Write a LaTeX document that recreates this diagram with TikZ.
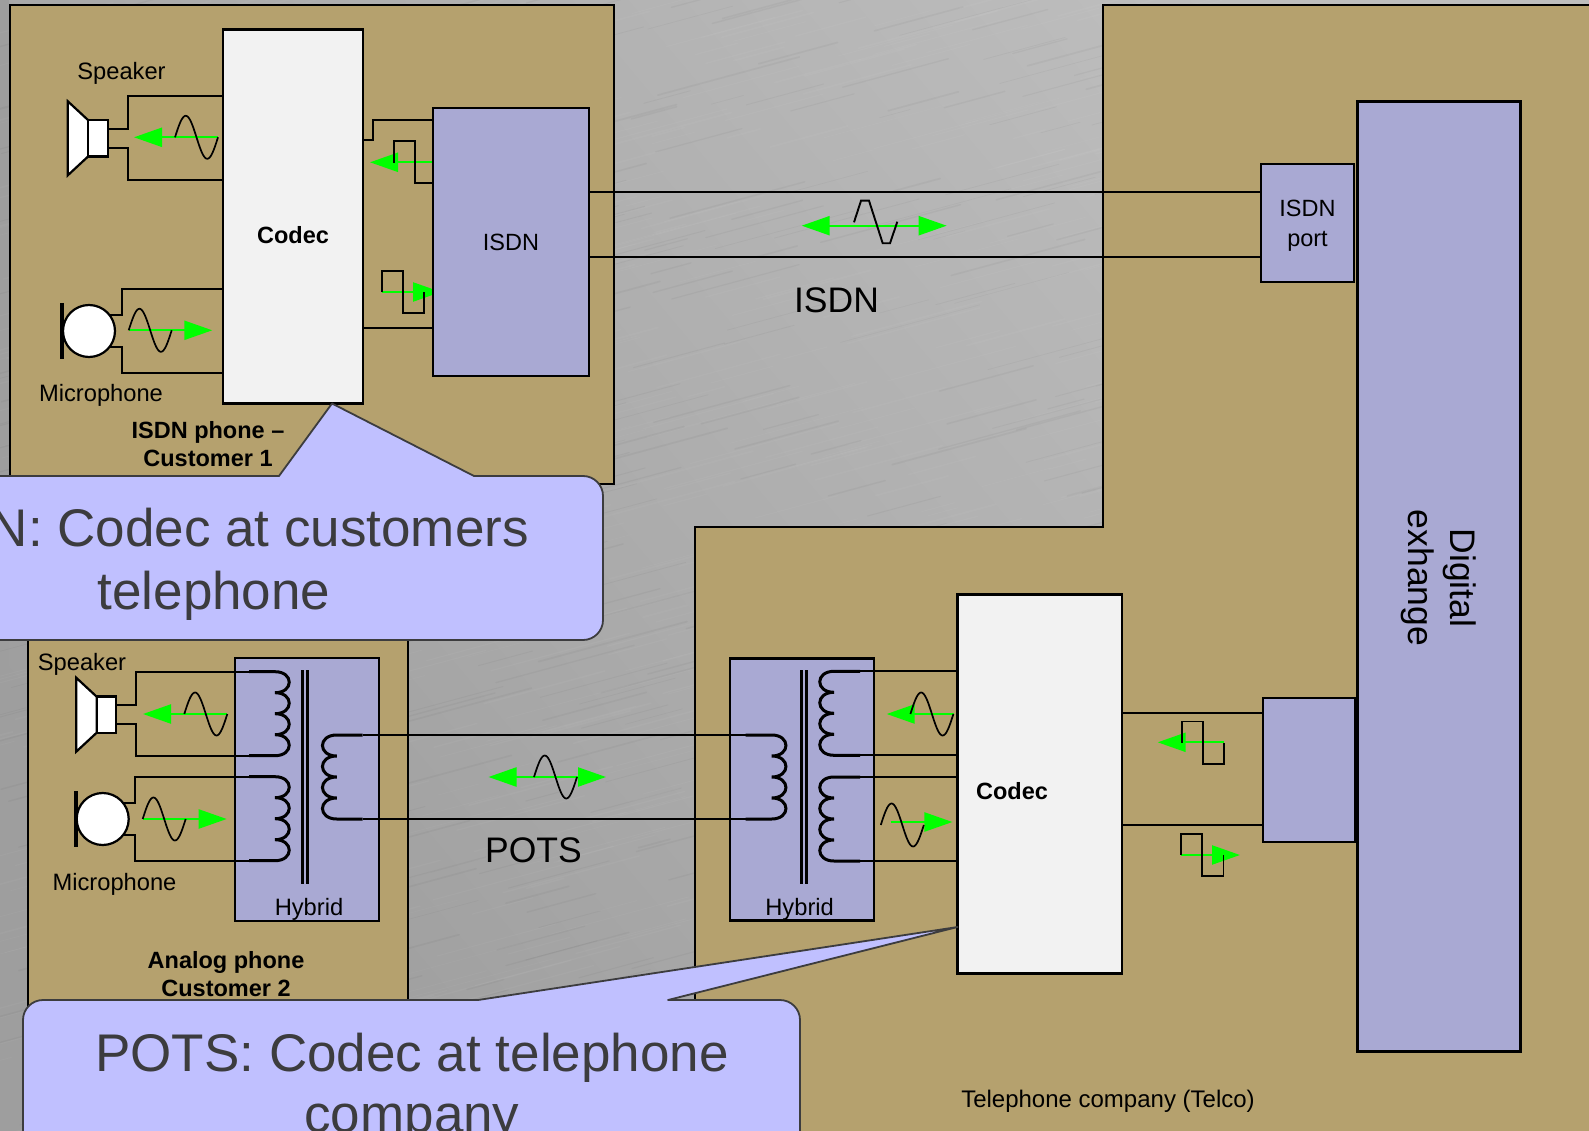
\documentclass[tikz,border=0pt]{standalone}
\usepackage{fontspec}
\setmainfont{Liberation Sans}
\usepackage{tikz}
\usetikzlibrary{arrows.meta,positioning,calc}
\usepackage{xcolor}
\definecolor{tanfill}{HTML}{B5A16E}
\definecolor{lilac}{HTML}{A9A9D3}
\definecolor{codecfill}{HTML}{F2F2F2}
\definecolor{bubble}{HTML}{C0C0FF}
\definecolor{bubbleline}{HTML}{3C3C3E}
\definecolor{bgdark}{HTML}{9E9E9E}
\definecolor{bglight}{HTML}{BEBEBE}
\tikzset{
  region/.style   = {draw=black, fill=tanfill, line width=1.9pt},
  block/.style    = {draw=black, line width=2.5pt, rectangle, inner sep=0pt, outer sep=0pt, align=center,
                     font=\fontsize{23.5}{30}\selectfont},
  lilacbox/.style = {block, fill=lilac},
  codecbox/.style = {block, fill=codecfill, line width=2.8pt},
  horn/.style     = {draw=black, fill=white, line width=2.2pt, line join=miter},
  micbody/.style  = {draw=black, fill=white, line width=2.2pt, circle, inner sep=0pt, outer sep=0pt, minimum size=52pt},
  micbar/.style   = {line width=3.6pt},
  wire/.style     = {line width=2pt},
  wave/.style     = {line width=1.7pt},
  coilline/.style = {line width=3pt},
  coreline/.style = {line width=3pt},
  sig/.style      = {green, line width=2.3pt, -{Triangle[length=28pt,width=19pt]}},
  sigboth/.style  = {green, line width=2.3pt, {Triangle[length=28pt,width=19pt]}-{Triangle[length=28pt,width=19pt]}},
  lbl/.style      = {inner sep=0pt, align=center, font=\fontsize{23.7}{29}\selectfont},
  lblbold/.style  = {lbl, font=\fontsize{23.5}{28}\selectfont\bfseries},
  lblbig/.style   = {inner sep=0pt, align=center, font=\fontsize{35.5}{42}\selectfont},
  callout/.style  = {draw=bubbleline, fill=bubble, line width=1.8pt, line join=round},
  calloutxt/.style= {inner sep=0pt, text=bubbleline, font=\fontsize{53}{63}\selectfont},
}
% sine wave glyph, #1 #2 = left end on the axis
\newcommand{\sinewave}[2]{\draw[wave, shift={(#1,#2)}, domain=0:43, samples=41, smooth] plot (\x,{-21.5*sin(\x*360/43)});}
% square wave glyph
\newcommand{\squarewave}[2]{\draw[wave, shift={(#1,#2)}] (0,0) -- (0,-21.3) -- (21.2,-21.3) -- (21.2,21) -- (42.4,21) -- (42.4,0);}
% green arrow between two named ends
\newcommand{\sigarrow}[5][sig]{\coordinate (#2-a) at (#3,#5); \coordinate (#2-b) at (#4,#5); \draw[#1] (#2-a) -- (#2-b);}
% transformer winding, four bumps, with named ends
\newcommand{\coil}[4]{
  \begin{scope}[shift={(#2,#3)}, xscale=#4]
    \coordinate (#1-t) at (-26,0);
    \coordinate (#1-b) at (-26,84);
    \draw[coilline] (#1-t) -- (0,0) \foreach \i in {0,1,2,3} { .. controls (19,{\i*21}) and (19,{\i*21+21}) .. (0,{\i*21+21}) } -- (#1-b);
  \end{scope}
}
\newcommand{\speaker}[3]{
  \draw[horn] ($(#2,#3)+(0,-18)$) -- ($(#2,#3)+(-20.5,-37)$) -- ($(#2,#3)+(-20.5,37)$) -- ($(#2,#3)+(0,18)$) -- cycle;
  \node[block, fill=white, line width=2.2pt, minimum width=19.5pt, minimum height=36.5pt] (#1) at ($(#2,#3)+(9.7,0)$) {};
}
\newcommand{\mike}[3]{
  \draw[micbar] ($(#2,#3)+(-27,-28)$) -- ($(#2,#3)+(-27,28)$);
  \node[micbody] (#1) at (#2,#3) {};
}

\begin{document}
\begin{tikzpicture}[x=1pt,y=-1pt]
\useasboundingbox (0,0) rectangle (1589,1131);
\clip (0,0) rectangle (1589,1131);
% ---- brushed metal ----
\shade[bottom color=bgdark, top color=bglight, shading angle=-50] (0,0) rectangle (1589,1131);
\fill[bgdark] (0,0) rectangle (9,1131);
\pgfmathsetseed{11}
\foreach \i in {1,...,1400} {
  \pgfmathsetmacro{\sx}{rnd*1250-60}
  \pgfmathsetmacro{\sy}{rnd*1231}
  \pgfmathsetmacro{\sl}{30+rnd*120}
  \pgfmathsetmacro{\sw}{0.5+rnd*1.3}
  \pgfmathparse{rnd>0.35 ? "white" : "black"}
  \edef\scol{\pgfmathresult}
  \draw[\scol, opacity=0.035, line width=\sw pt, line cap=round] (\sx,\sy) -- ++(\sl,{-0.27*\sl});
}
% ---- background areas ----
\draw[region] (10,5) rectangle (614,484);
\draw[region] (28,630) rectangle (408,1140);
\draw[region] (1600,5) -- (1103,5) -- (1103,527) -- (695,527) -- (695,1140) -- (1600,1140) -- cycle;

% ---- customer 1 ----
\node[codecbox, minimum width=140pt, minimum height=374pt] (codecA) at (293,216.5) {};
\node[lblbold] (codecAt) at (293,235) {Codec};
% this arrow runs in under the isdn box
\sigarrow{sigD}{381.7}{441}{292}
\node[lilacbox, minimum width=156pt, minimum height=268pt] (isdnA) at (511,242) {ISDN};
\speaker{spkA}{88.3}{138.3}
\mike{micA}{89}{331}
\node[lbl] (spkAt) at (121.5,73) {Speaker};
\node[lbl] (micAt) at (101,395) {Microphone};
\node[lblbold] (custA) at (208,444) {ISDN phone --\\Customer 1};

\draw[wire] (spkA.east |- 0,129) -- ++(20,0) |- (codecA.west |- 0,95.7);
\draw[wire] (spkA.east |- 0,147.7) -- ++(20,0) |- (codecA.west |- 0,180);
\draw[wire] (micA.38) -- ++(13,0) |- (codecA.west |- 0,289);
\draw[wire] (micA.-38) -- ++(13,0) |- (codecA.west |- 0,373.3);
\draw[wire] (codecA.east |- 0,140.3) -- ++(10,0) |- (isdnA.west |- 0,120);
\draw[wire] (codecA.east |- 0,328) -- (isdnA.west |- 0,328);

\sigarrow{sigA}{218.3}{134}{137.3}
\sinewave{175}{137.3}
\sigarrow{sigB}{128.7}{212.3}{330.3}
\sinewave{128.7}{330.3}
\sigarrow{sigC}{432}{370}{162.3}
\draw[wave] (394,162.7) -- (394,141) -- (415.3,141) -- (415.3,183.3) -- (isdnA.west |- 0,183.3);
\squarewave{381.7}{292.3}

% ---- isdn line ----
\node[lilacbox, minimum width=93pt, minimum height=118pt] (isdnPort) at (1307.5,223) {};
\node[lbl, font=\fontsize{23.5}{30}\selectfont] (isdnPortT) at (1307.5,225.5) {ISDN\\port};
\node[lilacbox, line width=3pt, minimum width=163pt, minimum height=949pt] (exch) at (1438.5,576.5) {};
\node[lblbig, rotate=-90] (exchT) at (1439,578) {Digital\\exhange};
\draw[wire] (isdnA.east |- 0,192.5) -- (isdnPort.west |- 0,192.5);
\draw[wire] (isdnA.east |- 0,257.5) -- (isdnPort.west |- 0,257.5);
\sigarrow[sigboth]{sigE}{801.7}{946.7}{225.7}
\draw[wave, line width=1.9pt] (854,222.3) -- (861,200.7) -- (869,200.7) -- (882.7,243.3) -- (890,243.3) -- (897.3,221.7);
\node[lblbig] (isdnT) at (836.5,300) {ISDN};

% ---- customer 2 ----
\node[lilacbox, minimum width=144pt, minimum height=263pt] (hybL) at (307,789.5) {};
\node[lbl] (hybLt) at (309,909) {Hybrid};
\speaker{spkB}{96.7}{714.7}
\mike{micB}{102.7}{819}
\node[lbl] (spkBt) at (82,664) {Speaker};
\node[lbl] (micBt) at (114.5,884) {Microphone};
\node[lblbold] (custB) at (226,974) {Analog phone\\Customer 2};

\coil{coilLa}{275}{671.7}{1}
\coil{coilLb}{275}{776.7}{1}
\coil{coilLc}{336.7}{735}{-1}
\draw[coreline] (302.7,670) -- (302.7,884.3);
\draw[coreline] (307.4,670) -- (307.4,884.3);

\draw[wire] (spkB.east |- 0,705) -- ++(20,0) |- (coilLa-t);
\draw[wire] (spkB.east |- 0,724) -- ++(20,0) |- (coilLa-b);
\draw[wire] (micB.38) -- ++(11.5,0) |- (coilLb-t);
\draw[wire] (micB.-38) -- ++(11.5,0) |- (coilLb-b);

\sigarrow{sigF}{227}{143}{714}
\sinewave{184.3}{714}
\sigarrow{sigG}{142.7}{226.7}{819}
\sinewave{142.7}{819}

% ---- pots line ----
\node[lilacbox, minimum width=144pt, minimum height=262pt] (hybR) at (802,789.5) {};
\node[lbl] (hybRt) at (799.6,909) {Hybrid};
\coil{coilRc}{771.7}{735}{1}
\coil{coilRa}{834}{671.3}{-1}
\coil{coilRb}{834}{777}{-1}
\draw[coreline] (801.6,670) -- (801.6,884.3);
\draw[coreline] (806.2,670) -- (806.2,884.3);
\draw[wire] (coilLc-t) -- (coilRc-t);
\draw[wire] (coilLc-b) -- (coilRc-b);
\sigarrow[sigboth]{sigH}{488.5}{606}{777}
\sinewave{534}{777}
\node[lblbig] (potsT) at (533.5,850) {POTS};

% ---- telco ----
\node[codecbox, minimum width=164.5pt, minimum height=379pt] (codecB) at (1039.8,784) {};
\node[lblbold] (codecBt) at (1012,791.5) {Codec};
\node[lilacbox, minimum width=92pt, minimum height=144pt] (lineCard) at (1309,770) {};
\node[lbl, font=\fontsize{24}{29}\selectfont] (telco) at (1108,1101) {Telephone company (Telco)};

\draw[wire] (coilRa-t) -- (coilRa-t -| codecB.west);
\draw[wire] (coilRa-b) -- (coilRa-b -| codecB.west);
\draw[wire] (coilRb-t) -- (coilRb-t -| codecB.west);
\draw[wire] (coilRb-b) -- (coilRb-b -| codecB.west);
\draw[wire] (codecB.east |- 0,713.3) -- (lineCard.west |- 0,713.3);
\draw[wire] (codecB.east |- 0,825) -- (lineCard.west |- 0,825);

\sigarrow{sigI}{953.5}{886.7}{714}
\sinewave{910.4}{714}
\sigarrow{sigJ}{891}{952.4}{822}
\sinewave{880.8}{825}
\sigarrow{sigK}{1224}{1157.7}{742.3}
\squarewave{1181.7}{742.7}
\sigarrow{sigL}{1181}{1240}{855}
\squarewave{1181}{855}

% ---- callouts ----
\draw[callout] (279,476) [sharp corners] -- (codecA.south -| 332,0) -- (474,476) [rounded corners=20pt] -- (603,476) -- (603,640) -- (-30,640) -- (-30,476) [sharp corners] -- cycle;
\node[calloutxt, anchor=base east] (bubA1) at (529,546) {N: Codec at customers};
\node[calloutxt, anchor=base] (bubA2) at (214,609) {telephone};
\draw[callout] (478,1000) [sharp corners] -- (codecB.west |- 0,927) -- (668,1000) [rounded corners=20pt] -- (800,1000) -- (800,1180) -- (23,1180) -- (23,1000) [sharp corners] -- cycle;
\node[calloutxt, anchor=base] (bubB1) at (412,1071) {POTS: Codec at telephone};
\node[calloutxt, anchor=base] (bubB2) at (412,1132) {company};
\end{tikzpicture}
\end{document}
